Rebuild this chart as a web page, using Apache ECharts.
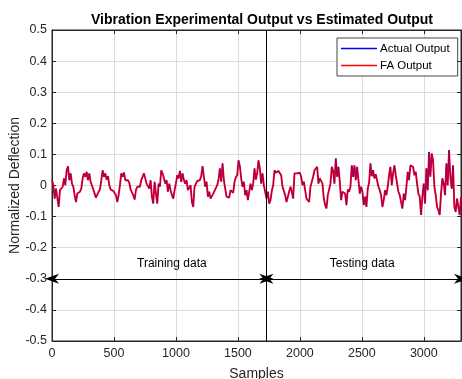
<!DOCTYPE html>
<html>
<head>
<meta charset="utf-8">
<script src="https://cdn.jsdelivr.net/npm/echarts@6/dist/echarts.min.js"></script>
<style>html,body{margin:0;padding:0;background:#fff}#c{width:462px;height:379px}</style>
</head>
<body>
<div id="c"></div>
<script>
// ---- data ----
const samplesPerPoint = 10.75;           // spacing (in samples) of the read-off points
const splitSample = 1730;                 // training / testing boundary
const arrowLevel = -0.3;
const xTicks = [0, 500, 1000, 1500, 2000, 2500, 3000];
const yTicks = [-0.5, -0.4, -0.3, -0.2, -0.1, 0, 0.1, 0.2, 0.3, 0.4, 0.5];
const seriesNames = ['Actual Output', 'FA Output'];
const regionLabels = ['Training data', 'Testing data'];
const regionLabelX = [967, 2503];
const regionLabelY = -0.252;

const faOutput = [
 0.017,0.001,-0.042,-0.010,-0.015,-0.069,-0.015,-0.010,-0.004,0.023,
 0.001,0.049,0.062,0.017,0.039,0.006,-0.004,-0.031,-0.053,-0.026,
 -0.026,-0.020,-0.010,0.023,0.039,0.028,0.044,0.017,0.039,0.012,
 0.006,-0.013,-0.026,-0.039,-0.042,-0.020,-0.013,0.017,0.049,0.028,
 0.039,0.019,0.030,0.001,-0.013,-0.010,-0.017,-0.013,-0.031,-0.053,
 -0.031,0.001,0.039,0.028,0.042,0.017,0.019,0.017,0.009,-0.013,
 -0.015,-0.031,
 -0.045,-0.015,-0.004,0.001,-0.004,0.017,0.019,0.039,0.044,0.006,
 0.006,-0.010,0.017,-0.036,-0.058,0.012,-0.026,-0.058,0.006,-0.004,
 0.049,0.039,0.023,0.006,0.017,-0.020,0.006,-0.015,-0.031,-0.042,
 -0.015,0.006,0.033,0.023,0.047,0.012,0.039,0.017,0.006,0.017,
 -0.015,-0.020,0.001,-0.053,-0.069,-0.004,-0.004,0.015,0.019,0.017,
 0.030,0.062,0.028,-0.004,0.012,-0.036,-0.020,-0.042,-0.034,-0.026,
 -0.017,
 -0.013,0.001,0.019,0.055,0.012,0.071,0.017,-0.010,-0.036,-0.034,
 -0.039,-0.015,-0.020,-0.024,0.012,0.026,0.033,0.081,0.062,0.023,
 -0.004,0.012,-0.031,-0.015,-0.047,-0.053,0.006,-0.015,0.006,0.055,
 0.019,0.039,0.081,0.055,0.006,0.039,0.001,-0.020,-0.042,-0.020,
 -0.058,-0.047,-0.017,0.001,0.049,0.041,0.039,0.047,0.046,0.033,
 -0.004,-0.010,-0.031,-0.053,-0.049,-0.020,-0.004,-0.020,-0.042,0.039,
 0.039,0.039,
 0.044,0.041,0.028,0.001,0.012,-0.015,-0.042,-0.036,-0.053,-0.004,
 -0.004,0.028,0.049,0.044,0.060,0.006,0.023,0.017,0.006,-0.042,
 -0.063,-0.074,-0.031,-0.036,0.006,0.060,0.047,0.006,0.087,0.028,
 0.060,0.012,-0.047,-0.020,-0.026,-0.026,-0.063,-0.013,-0.020,-0.004,
 0.065,0.028,0.065,0.017,0.060,0.017,-0.026,-0.004,-0.020,-0.063,
 -0.036,-0.069,-0.010,0.009,0.071,0.030,0.049,0.023,0.036,0.030,
 -0.004,
 -0.015,-0.031,-0.069,-0.047,-0.015,-0.031,-0.004,0.033,0.060,0.001,
 0.039,0.065,0.033,0.039,-0.020,-0.031,-0.053,-0.074,-0.026,-0.047,
 -0.004,0.044,0.017,0.065,0.071,0.060,0.033,0.044,0.006,-0.026,
 -0.036,-0.095,-0.036,0.006,-0.058,0.055,-0.015,0.108,0.028,0.103,
 0.081,-0.004,-0.031,-0.069,-0.079,-0.095,-0.026,0.023,0.006,-0.031,
 0.071,0.001,0.114,0.028,-0.010,0.065,-0.069,-0.085,-0.042,-0.047,
 -0.095,-0.036
];
const actualOutput = faOutput.slice();   // the two curves coincide in the reference

// ---- build [x,y] pairs for the library ----
const faPairs = faOutput.map((v, i) => [i * samplesPerPoint, v]);
const actualPairs = actualOutput.map((v, i) => [i * samplesPerPoint, v]);
const xMax = 3300;

const FONT = 'Liberation Sans, Arial, Helvetica, sans-serif';
const AX = '#262626';
const arrowHead = 'path://M5,0 L10,14 L5,10 L0,14 Z';

const chart = echarts.init(document.getElementById('c'), null, {renderer: 'canvas'});
const fmtY = v => String(+v.toFixed(1));

chart.setOption({
  animation: false,
  backgroundColor: '#fff',
  textStyle: {fontFamily: FONT},
  title: {
    text: 'Vibration Experimental Output vs Estimated Output',
    left: 257, top: 8, textAlign: 'center',
    textStyle: {fontFamily: FONT, fontSize: 14, fontWeight: 'bold', color: '#000'}
  },
  grid: {left: 52, right: 1, top: 30, bottom: 38, show: true, borderColor: AX, borderWidth: 1,
    containLabel: false, outerBoundsMode: 'none'},
  legend: {
    orient: 'vertical', left: 337, top: 38,
    data: [
      {name: seriesNames[0], icon: 'rect', itemStyle: {color: '#0000ff', opacity: 1}},
      {name: seriesNames[1], icon: 'rect', itemStyle: {color: '#ff0000', opacity: 1}}
    ],
    itemWidth: 36, itemHeight: 1.3, itemGap: 4,
    padding: [4, 8, 4, 4],
    backgroundColor: '#fff', borderColor: '#444', borderWidth: 1,
    textStyle: {fontFamily: FONT, fontSize: 11.5, color: '#000', lineHeight: 13, padding: [0, 0, 0, -2]}
  },
  xAxis: [{
    type: 'value', min: 0, max: xMax, interval: 500,
    name: 'Samples', nameLocation: 'middle', nameGap: 26, nameMoveOverlap: false,
    nameTextStyle: {fontFamily: FONT, fontSize: 14, color: AX},
    axisLine: {show: true, onZero: false, lineStyle: {color: AX}},
    axisTick: {show: true, inside: true, length: 4, lineStyle: {color: AX}},
    axisLabel: {fontFamily: FONT, fontSize: 12.5, color: AX, margin: 6, showMaxLabel: false,
      formatter: v => xTicks.includes(v) ? String(v) : ''},
    splitLine: {show: true, lineStyle: {color: '#dcdcdc', width: 1}}
  }, {
    type: 'value', min: 0, max: xMax, interval: 500, position: 'top',
    axisLine: {show: true, onZero: false, lineStyle: {color: AX}},
    axisTick: {show: true, inside: true, length: 4, lineStyle: {color: AX}},
    axisLabel: {show: false}, splitLine: {show: false}
  }],
  yAxis: [{
    type: 'value', min: -0.5, max: 0.5, interval: 0.1,
    name: 'Normalized Deflection', nameLocation: 'middle', nameGap: 30, nameMoveOverlap: false,
    nameTextStyle: {fontFamily: FONT, fontSize: 14, color: AX},
    axisLine: {show: true, onZero: false, lineStyle: {color: AX}},
    axisTick: {show: true, inside: true, length: 4, lineStyle: {color: AX}},
    axisLabel: {fontFamily: FONT, fontSize: 12.5, color: AX, margin: 5,
      formatter: v => yTicks.some(t => Math.abs(t - v) < 1e-9) ? fmtY(v) : ''},
    splitLine: {show: true, lineStyle: {color: '#dcdcdc', width: 1}}
  }, {
    type: 'value', min: -0.5, max: 0.5, interval: 0.1, position: 'right',
    axisLine: {show: true, onZero: false, lineStyle: {color: AX}},
    axisTick: {show: true, inside: true, length: 4, lineStyle: {color: AX}},
    axisLabel: {show: false}, splitLine: {show: false}
  }],
  series: [
    {
      name: seriesNames[1], type: 'line', data: faPairs,
      symbol: 'none', color: '#ff0000',
      lineStyle: {color: '#ff0000', width: 1.9}, z: 2
    },
    {
      name: seriesNames[0], type: 'line', data: actualPairs,
      symbol: 'none', color: '#0000ff',
      lineStyle: {color: '#0000ff', width: 0.8, opacity: 0.5}, z: 3
    },
    {
      name: 'annotations', type: 'line', data: [], z: 5,
      markLine: {
        silent: true, animation: false,
        label: {show: false},
        lineStyle: {color: '#000', width: 1, type: 'solid'},
        symbol: [arrowHead, arrowHead], symbolSize: [10, 14], symbolOffset: 0,
        data: [
          [{coord: [0, arrowLevel]}, {coord: [splitSample, arrowLevel]}],
          [{coord: [splitSample, arrowLevel]}, {coord: [xMax, arrowLevel]}],
          [{coord: [splitSample, -0.5], symbol: 'none'}, {coord: [splitSample, 0.5], symbol: 'none'}]
        ]
      },
      markPoint: {
        silent: true, symbol: 'circle', symbolSize: 0,
        label: {show: true, position: 'inside', formatter: '{b}', color: '#000', fontFamily: FONT, fontSize: 12},
        data: [
          {name: regionLabels[0], coord: [regionLabelX[0], regionLabelY]},
          {name: regionLabels[1], coord: [regionLabelX[1], regionLabelY]}
        ]
      }
    }
  ]
});
</script>
</body>
</html>
